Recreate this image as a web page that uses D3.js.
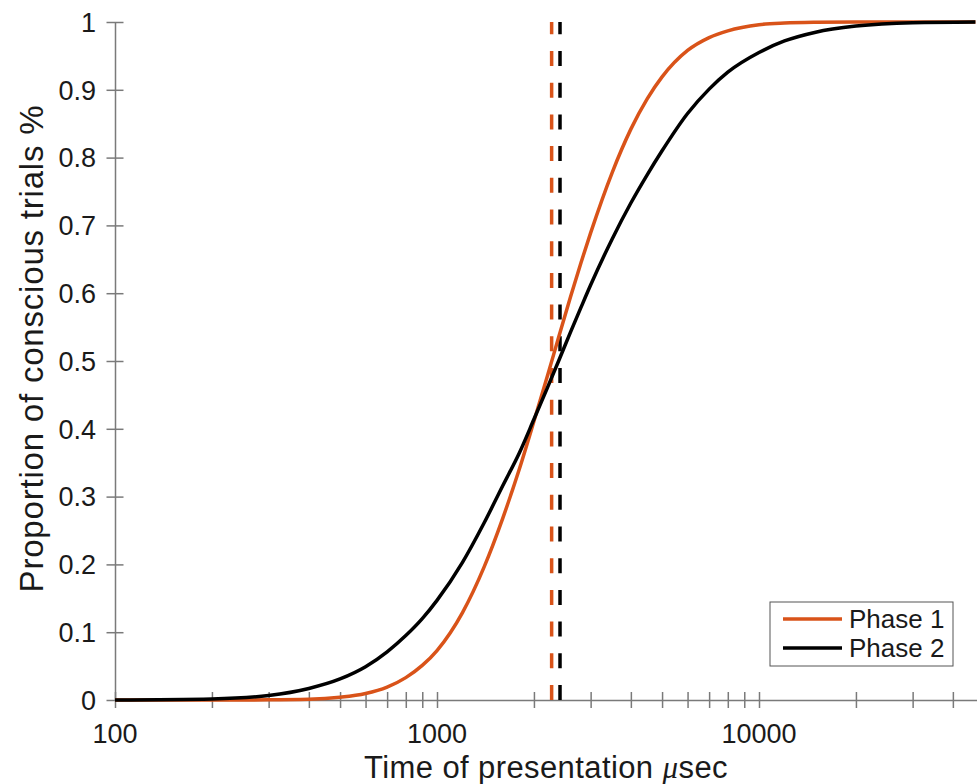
<!DOCTYPE html>
<html>
<head>
<meta charset="utf-8">
<script src="https://cdn.jsdelivr.net/npm/d3@7/dist/d3.min.js"></script>
<style>
  html, body { margin: 0; padding: 0; background: #fff; }
  svg { display: block; }
  text { font-family: "Liberation Sans", Arial, Helvetica, sans-serif; fill: #1a1a1a; }
</style>
</head>
<body>
<svg id="chart" width="977" height="784"></svg>
<script>
// ---------- data ----------
const timeUs = [100, 200, 300, 400, 500, 600, 700, 800, 900, 1000, 1200, 1400, 1600, 1800, 2000,
                2200, 2400, 2600, 2800, 3000, 3500, 4000, 4500, 5000, 6000, 7000, 8000, 10000,
                12000, 15000, 20000, 30000, 47000];
const phase1 = [0, 0, 0.0002, 0.001, 0.004, 0.0095, 0.019, 0.033, 0.051, 0.073, 0.129, 0.196, 0.268,
                0.34, 0.411, 0.477, 0.539, 0.595, 0.645, 0.689, 0.778, 0.842, 0.887, 0.919, 0.958,
                0.977, 0.987, 0.996, 0.9985, 0.9996, 1, 1, 1];
const phase2 = [0, 0.0015, 0.0066, 0.017, 0.031, 0.049, 0.071, 0.095, 0.12, 0.147, 0.203, 0.261, 0.316,
                0.364, 0.414, 0.46, 0.503, 0.543, 0.579, 0.612, 0.68, 0.733, 0.775, 0.81, 0.865,
                0.901, 0.926, 0.955, 0.972, 0.985, 0.994, 0.999, 1];
const thresholds = [2270, 2410];           // dashed vertical lines (Phase 1, Phase 2)
const seriesNames = ["Phase 1", "Phase 2"];
const seriesColors = ["#D95319", "#000000"];
const yTicks = [0, 0.1, 0.2, 0.3, 0.4, 0.5, 0.6, 0.7, 0.8, 0.9, 1];
const xTickLabels = [100, 1000, 10000];
const xTicks = [100, 200, 300, 400, 500, 600, 700, 800, 900,
                1000, 2000, 3000, 4000, 5000, 6000, 7000, 8000, 9000,
                10000, 20000, 30000, 40000];
const xDomain = [100, 47500];
const xTitle = "Time of presentation ";
const xTitleUnitSym = "\u03BC";
const xTitleUnit = "sec";
const yTitle = "Proportion of conscious trials %";

// ---------- layout ----------
const svg = d3.select("#chart");
const plotLeft = 115, plotTop = 22, plotBottom = 700;
const decade = 322;
const plotRight = plotLeft + decade * Math.log10(xDomain[1] / xDomain[0]);

const x = d3.scaleLog().domain(xDomain).range([plotLeft, plotRight]);
const y = d3.scaleLinear().domain([0, 1]).range([plotBottom, plotTop]);

const axisColor = "#7a7a7a";

// x axis
const xAxis = d3.axisBottom(x).tickValues(xTicks).tickSize(0).tickFormat(() => "");
const gx = svg.append("g").attr("transform", `translate(0,${plotBottom})`).call(xAxis);
gx.select(".domain").attr("stroke", axisColor).attr("stroke-width", 1.5);
gx.selectAll(".tick line").remove();
gx.selectAll(".tick").append("line")
  .attr("y1", -8).attr("y2", 8).attr("stroke", axisColor).attr("stroke-width", 1.5);
gx.selectAll(".tick text").remove();
svg.append("g").selectAll("text").data(xTickLabels).join("text")
  .attr("x", d => x(d)).attr("y", 743)
  .attr("text-anchor", "middle").attr("font-size", 27)
  .text(d => d);

// y axis
const yAxis = d3.axisLeft(y).tickValues(yTicks).tickSize(0).tickFormat(() => "");
const gy = svg.append("g").attr("transform", `translate(${plotLeft},0)`).call(yAxis);
gy.select(".domain").attr("stroke", axisColor).attr("stroke-width", 1.5);
gy.selectAll(".tick line").remove();
gy.selectAll(".tick").append("line")
  .attr("x1", -8.5).attr("x2", 8.5).attr("stroke", axisColor).attr("stroke-width", 1.5);
gy.selectAll(".tick text").remove();
svg.append("g").selectAll("text").data(yTicks).join("text")
  .attr("x", 96).attr("y", d => y(d)).attr("dy", "0.36em")
  .attr("text-anchor", "end").attr("font-size", 27)
  .text(d => d3.format("")(d));

// axis titles
const xt = svg.append("text")
  .attr("x", (plotLeft + 977) / 2).attr("y", 778)
  .attr("text-anchor", "middle").attr("font-size", 31).attr("letter-spacing", 0.4);
xt.append("tspan").text(xTitle);
xt.append("tspan").attr("font-family", "'Liberation Serif', 'DejaVu Serif', serif")
  .attr("font-style", "italic").text(xTitleUnitSym);
xt.append("tspan").text(xTitleUnit);

svg.append("text")
  .attr("transform", `translate(43,${(100 + 597) / 2}) rotate(-90)`)
  .attr("text-anchor", "middle").attr("font-size", 33).attr("letter-spacing", 0.8)
  .text(yTitle);

// ---------- marks ----------
const line = d3.line()
  .x(d => x(d[0])).y(d => y(d[1]))
  .curve(d3.curveMonotoneX);

// dashed thresholds
svg.append("g").selectAll("line").data(thresholds).join("line")
  .attr("x1", d => x(d)).attr("x2", d => x(d))
  .attr("y1", y(0)).attr("y2", y(1))
  .attr("stroke", (d, i) => seriesColors[i])
  .attr("stroke-width", 3.5)
  .attr("stroke-dasharray", "15 16.7");

const allSeries = [phase1, phase2];
svg.append("g").selectAll("path").data(allSeries).join("path")
  .attr("d", s => line(timeUs.map((t, i) => [t, s[i]])))
  .attr("fill", "none")
  .attr("stroke", (d, i) => seriesColors[i])
  .attr("stroke-width", 3.5)
  .attr("stroke-linejoin", "round");

// ---------- legend ----------
const lg = svg.append("g");
lg.append("rect").attr("x", 770).attr("y", 602).attr("width", 183).attr("height", 64)
  .attr("fill", "#fff").attr("stroke", "#555").attr("stroke-width", 1);
seriesNames.forEach((name, i) => {
  const cy = 619 + i * 29;
  lg.append("line").attr("x1", 783).attr("x2", 842).attr("y1", cy).attr("y2", cy)
    .attr("stroke", seriesColors[i]).attr("stroke-width", 3.5);
  lg.append("text").attr("x", 849).attr("y", cy + 8.5).attr("font-size", 26).text(name);
});
</script>
</body>
</html>
